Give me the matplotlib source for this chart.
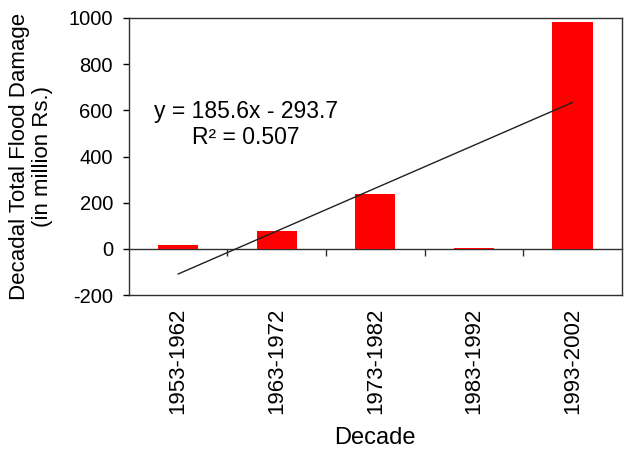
import numpy as np
import matplotlib
matplotlib.use('Agg')
import matplotlib.pyplot as plt

# Decadal flood damage data
decades = ['1953-1962', '1963-1972', '1973-1982', '1983-1992', '1993-2002']
damage = [16, 80, 238, 6, 984]

# Linear trendline as printed on the chart
slope = 185.6
intercept = -293.7
r_squared = 0.507

plt.rcParams['font.family'] = ['Liberation Sans', 'DejaVu Sans']
plt.rcParams['font.size'] = 14
plt.rcParams['axes.unicode_minus'] = False

fig = plt.figure(figsize=(6.26, 4.5), dpi=100)
ax = fig.add_axes([0.206, 0.344, 0.787, 0.616])

x = np.arange(1, len(decades) + 1)
ax.bar(x, damage, width=0.41, color='#FF0000', zorder=2)

# Trendline over the category positions
trend = slope * x + intercept
ax.plot(x, trend, color='#202020', linewidth=1.0, zorder=3)
ax.text(1.69, 540, f'y = {slope}x - {abs(intercept)}\nR² = {r_squared}',
        ha='center', va='center', multialignment='center', fontsize=16.5,
        linespacing=1.15)

ax.set_xlim(0.5, len(decades) + 0.5)
ax.set_ylim(-200, 1000)
ax.set_yticks(range(-200, 1001, 200))

ax.set_xticks(x)
ax.set_xticklabels(decades, rotation=90, fontsize=16)
ax.tick_params(axis='x', length=0, pad=9)
ax.tick_params(axis='y', direction='out', length=4.5, width=1, labelsize=14.5, pad=7)

for s in ax.spines.values():
    s.set_linewidth(1.0)
    s.set_color('#303030')

# Category axis crossing at zero, with ticks between categories
zero_pos = (0 - (-200)) / 1200
sec = ax.secondary_xaxis(zero_pos)
sec.set_xticks(np.arange(1.5, len(decades), 1.0))
sec.set_xticklabels([])
sec.tick_params(axis='x', direction='out', length=5, width=1, color='#303030')
sec.spines['bottom'].set_linewidth(1.0)
sec.spines['bottom'].set_color('#303030')

ax.set_xlabel('Decade', fontsize=17, labelpad=9)
ax.set_ylabel('Decadal Total Flood Damage\n(in million Rs.)', fontsize=16,
              linespacing=1.15)
ax.yaxis.set_label_coords(-0.154, 0.5)

fig.savefig('out.png', dpi=100)
